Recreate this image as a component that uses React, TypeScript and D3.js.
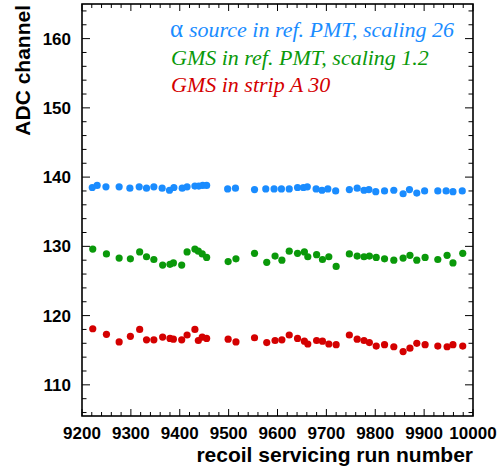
import React from "react";
import * as d3 from "d3";

const W = 499;
const H = 470;
const M = { left: 82, right: 473, top: 4, bottom: 416 };

// run numbers and ADC values
const alphaRuns = [9221, 9231, 9249, 9276, 9298, 9317, 9332, 9347, 9364, 9379, 9388, 9405, 9415, 9431, 9439, 9447, 9455,
  9498, 9514, 9553, 9576, 9593, 9608, 9624, 9641, 9653, 9661, 9679, 9691, 9703, 9719,
  9747, 9763, 9777, 9787, 9801, 9819, 9838, 9857, 9870, 9885, 9901, 9928, 9945, 9959, 9978];
const alphaValues = [138.5, 138.8, 138.6, 138.6, 138.4, 138.6, 138.4, 138.6, 138.4, 138.1, 138.5, 138.4, 138.6, 138.7, 138.7, 138.8, 138.8,
  138.3, 138.4, 138.2, 138.3, 138.3, 138.3, 138.3, 138.5, 138.5, 138.6, 138.3, 138.1, 138.3, 138.0,
  138.2, 138.4, 138.1, 138.2, 137.9, 138.0, 138.1, 137.6, 138.2, 137.7, 138.0, 138.0, 138.0, 137.9, 138.0];

const gmsRuns = [9222, 9250, 9276, 9299, 9318, 9332, 9347, 9365, 9380, 9387, 9404, 9415, 9431, 9438, 9446, 9455,
  9499, 9515, 9553, 9578, 9595, 9609, 9624, 9641, 9655, 9662, 9680, 9692, 9705, 9720,
  9747, 9763, 9777, 9788, 9802, 9819, 9838, 9857, 9871, 9885, 9902, 9928, 9947, 9959, 9979];
const gmsRefValues = [129.6, 128.9, 128.3, 128.2, 129.2, 128.5, 128.1, 127.3, 127.4, 127.6, 127.3, 129.2, 129.6, 129.3, 128.9, 128.4,
  127.8, 128.2, 129.0, 127.7, 128.6, 128.0, 129.3, 129.0, 129.2, 128.5, 128.8, 128.1, 128.5, 127.1,
  128.9, 128.6, 128.5, 128.6, 128.4, 128.2, 128.0, 128.3, 128.7, 128.0, 128.4, 128.1, 128.7, 127.6, 129.0];
const gmsStripValues = [118.1, 117.3, 116.2, 117.0, 118.0, 116.5, 116.5, 116.9, 116.7, 116.6, 116.5, 117.2, 118.0, 116.4, 116.9, 116.7,
  116.6, 116.2, 116.8, 116.1, 116.4, 116.5, 117.2, 116.7, 116.3, 115.9, 116.4, 116.3, 115.9, 115.8,
  117.2, 116.6, 116.4, 116.1, 115.6, 115.8, 115.5, 114.8, 115.3, 116.0, 115.8, 115.6, 115.5, 115.8, 115.6];

const xTicks = [9200, 9300, 9400, 9500, 9600, 9700, 9800, 9900, 10000];
const yTicks = [110, 120, 130, 140, 150, 160];

const legendLabels = ["source in ref. PMT, scaling 26", "GMS in ref. PMT, scaling 1.2", "GMS in strip A 30"];
const colors = ["#1a8cff", "#0a990a", "#d40000"];

export default function App() {
  const x = d3.scaleLinear().domain([9200, 10000]).range([M.left, M.right]);
  const y = d3.scaleLinear().domain([105.5, 165]).range([M.bottom, M.top]);

  const series = [
    { runs: alphaRuns, vals: alphaValues, color: colors[0] },
    { runs: gmsRuns, vals: gmsRefValues, color: colors[1] },
    { runs: gmsRuns, vals: gmsStripValues, color: colors[2] },
  ];

  const xMinor = d3.range(9200, 10001, 20);
  const yMinor = d3.range(106, 165, 2);

  const bold = "'Liberation Sans', Arial, sans-serif";
  const serif = "'Liberation Serif', 'Times New Roman', serif";

  return (
    <svg width={W} height={H} style={{ position: "absolute", left: 0, top: 0, background: "#fff" }}>
      {/* ticks bottom/top */}
      {xMinor.map((v) => {
        const major = v % 100 === 0;
        const len = major ? 7 : 4;
        return (
          <g key={"xt" + v}>
            <line x1={x(v)} x2={x(v)} y1={M.bottom} y2={M.bottom - len} stroke="#000" strokeWidth={1} />
            <line x1={x(v)} x2={x(v)} y1={M.top} y2={M.top + len} stroke="#000" strokeWidth={1} />
          </g>
        );
      })}
      {yMinor.map((v) => {
        const major = v % 10 === 0;
        const len = major ? 8 : 4.5;
        return (
          <g key={"yt" + v}>
            <line x1={M.left} x2={M.left + len} y1={y(v)} y2={y(v)} stroke="#000" strokeWidth={1} />
            <line x1={M.right} x2={M.right - len} y1={y(v)} y2={y(v)} stroke="#000" strokeWidth={1} />
          </g>
        );
      })}
      <rect x={M.left} y={M.top} width={M.right - M.left} height={M.bottom - M.top} fill="none" stroke="#000" strokeWidth={1.6} />

      {/* tick labels */}
      {xTicks.map((v) => (
        <text key={"xl" + v} x={x(v)} y={439} textAnchor="middle" fontFamily={bold} fontWeight="bold" fontSize={17}>
          {v}
        </text>
      ))}
      {yTicks.map((v) => (
        <text key={"yl" + v} x={71} y={y(v)} dy="0.36em" textAnchor="end" fontFamily={bold} fontWeight="bold" fontSize={17}>
          {v}
        </text>
      ))}

      {/* axis titles */}
      <text x={M.right} y={462} textAnchor="end" fontFamily={bold} fontWeight="bold" fontSize={21}>
        recoil servicing run number
      </text>
      <text transform={`translate(30, ${M.top + 1}) rotate(-90)`} textAnchor="end" fontFamily={bold} fontWeight="bold" fontSize={21}>
        ADC channel
      </text>

      {/* legend */}
      <text x={170} y={37} fontFamily={serif} fontStyle="italic" fontSize={22} fill={colors[0]}>
        <tspan fontStyle="normal" fontSize={25}>α</tspan>
        <tspan x={189}>{legendLabels[0]}</tspan>
      </text>
      <text x={171} y={65} fontFamily={serif} fontStyle="italic" fontSize={22} fill={colors[1]}>
        {legendLabels[1]}
      </text>
      <text x={171} y={92} fontFamily={serif} fontStyle="italic" fontSize={22} fill={colors[2]}>
        {legendLabels[2]}
      </text>

      {/* points */}
      {series.map((s, si) => (
        <g key={"s" + si}>
          {s.runs.map((r, i) => (
            <circle key={i} cx={x(r)} cy={y(s.vals[i])} r={3.6} fill={s.color} />
          ))}
        </g>
      ))}
    </svg>
  );
}
